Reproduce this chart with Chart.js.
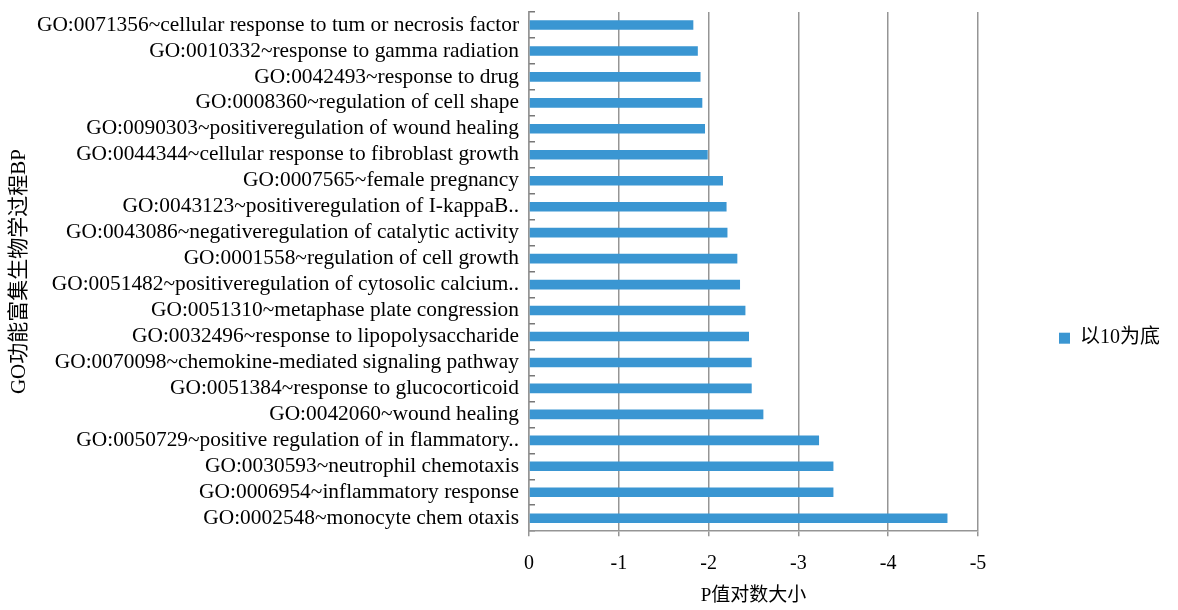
<!DOCTYPE html>
<html>
<head>
<meta charset="utf-8">
<script src="https://cdn.jsdelivr.net/npm/chart.js@4"></script>
<style>
  html, body { margin: 0; padding: 0; background: #fff; }
  #wrap { width: 1178px; height: 610px; position: relative; }
</style>
</head>
<body>
<div id="wrap"><canvas id="chart"></canvas></div>
<script>
const categories = [
  "GO:0071356~cellular response to tum or necrosis factor",
  "GO:0010332~response to gamma radiation",
  "GO:0042493~response to drug",
  "GO:0008360~regulation of cell shape",
  "GO:0090303~positiveregulation of wound healing",
  "GO:0044344~cellular response to fibroblast growth",
  "GO:0007565~female pregnancy",
  "GO:0043123~positiveregulation of I-kappaB..",
  "GO:0043086~negativeregulation of catalytic activity",
  "GO:0001558~regulation of cell growth",
  "GO:0051482~positiveregulation of cytosolic calcium..",
  "GO:0051310~metaphase plate congression",
  "GO:0032496~response to lipopolysaccharide",
  "GO:0070098~chemokine-mediated signaling pathway",
  "GO:0051384~response to glucocorticoid",
  "GO:0042060~wound healing",
  "GO:0050729~positive regulation of in flammatory..",
  "GO:0030593~neutrophil chemotaxis",
  "GO:0006954~inflammatory response",
  "GO:0002548~monocyte chem otaxis"
];
const logP = [
  -1.83, -1.88, -1.91, -1.93, -1.96, -1.99, -2.16, -2.20, -2.21, -2.32,
  -2.35, -2.41, -2.45, -2.48, -2.48, -2.61, -3.23, -3.39, -3.39, -4.66
];
const seriesName = "以10为底";
const xTicks = [0, -1, -2, -3, -4, -5];
const xTitle = "P值对数大小";
const yTitle = "GO功能富集生物学过程BP";

const serif = "'Liberation Serif', 'Noto Sans CJK SC', serif";
const barColor = "#3a96d2";
const gridColor = "#959595";

new Chart(document.getElementById("chart"), {
  type: "bar",
  data: {
    labels: categories,
    datasets: [{
      label: seriesName,
      data: logP,
      backgroundColor: barColor,
      borderWidth: 0,
      barPercentage: 0.74,
      categoryPercentage: 0.5
    }]
  },
  options: {
    indexAxis: "y",
    responsive: true,
    maintainAspectRatio: false,
    animation: false,
    layout: { padding: { top: 12, left: 4, right: 8, bottom: 3 } },
    plugins: {
      tooltip: { enabled: false },
      legend: {
        position: "right",
        title: { display: true, text: "", font: { size: 12 }, padding: { top: 43, bottom: 0 } },
        labels: {
          boxWidth: 11,
          boxHeight: 11,
          padding: 81,
          color: "#000",
          font: { family: serif, size: 20 }
        }
      }
    },
    scales: {
      x: {
        min: -5,
        max: 0,
        reverse: true,
        afterBuildTicks: (axis) => { axis.ticks = xTicks.map(v => ({ value: v })); },
        ticks: {
          color: "#000",
          padding: 16,
          font: { family: serif, size: 20 }
        },
        grid: { color: gridColor, lineWidth: 1.5, tickLength: 5 },
        border: { color: gridColor, width: 1.5 },
        title: {
          display: true,
          text: xTitle,
          color: "#000",
          padding: { top: -8, bottom: 0 },
          font: { family: serif, size: 19 }
        }
      },
      y: {
        afterFit: (axis) => {
          axis.width = 525;
          axis.paddingTop = 0;
          axis.paddingBottom = 0;
        },
        ticks: {
          color: "#000",
          padding: 16,
          autoSkip: false,
          font: { family: serif, size: 21.4 }
        },
        grid: { drawOnChartArea: false, color: "#777", lineWidth: 1.5, tickLength: -6 },
        border: { color: gridColor, width: 1.5 },
        title: {
          display: true,
          text: yTitle,
          color: "#000",
          padding: { top: 3, bottom: 0 },
          font: { family: serif, size: 21 }
        }
      }
    }
  }
});
</script>
</body>
</html>
